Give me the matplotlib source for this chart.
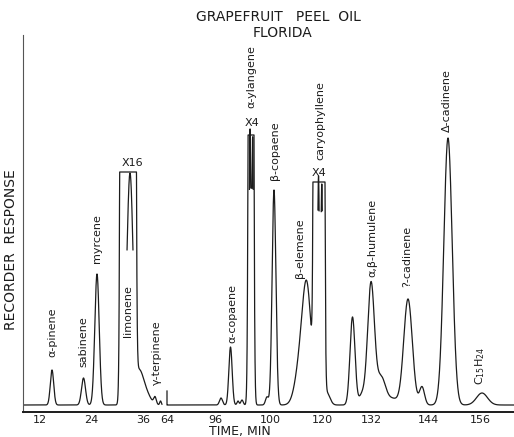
import numpy as np
import matplotlib
matplotlib.use('Agg')
import matplotlib.pyplot as plt

# Chart position along the recorder paper (x) and pen deflection above baseline (y),
# both.

# ---- first part of the run (monoterpenes) ----
seg1_span = (0, 139)
seg1_centers = [29, 60.5, 74, 105, 116, 125, 132, 137.5]
seg1_heights = [35, 27, 131, 345000, 35, 6, 7, 4]
seg1_sigmas = [1.7, 2.0, 2.2, 2.2, 5.0, 4.0, 1.3, 0.8]

# ---- second part of the run (sesquiterpenes) ----
seg2_span = (144, 491)
seg2_pen_mark = 14
seg2_centers = [198, 207.5, 215, 219, 228, 244, 251, 277, 284, 296, 304,
                329.5, 339, 348, 358, 370, 385, 399, 425, 459]
seg2_heights = [7, 58, 4, 5, 2550, 8, 215, 36, 110, 42600, 12,
                88, 10, 121, 28, 6, 106, 18, 267, 12]
seg2_sigmas = [1.5, 1.65, 1.0, 1.2, 1.42, 1.5, 1.9, 5.0, 4.5, 1.85, 3.0,
               2.5, 3.0, 3.4, 4.5, 5.0, 4.3, 2.5, 4.2, 5.5]

# off-scale peaks: pen limit inside each window
clip_lo = [90, 220, 288]
clip_hi = [125, 236, 305]
clip_top = [233, 270, 223]

# attenuated re-recordings (X16, X4, X4)
inset_labels = ['X16', 'X4', 'X4']
inset_centers = [[107], [227, 229.7], [295.5, 298.8]]
inset_heights = [[232], [273, 265], [228, 220]]
inset_sigmas = [[3.3], [0.9, 0.9], [1.0, 1.0]]
inset_floor = [155, 215, 193]
inset_label_x = [109, 229, 296]
inset_label_y = [242, 282, 232]

# peak names
peak_names = ['α-pinene', 'sabinene', 'myrcene', 'limonene', 'γ-terpinene',
              'α-copaene', 'α-ylangene', 'β-copaene', 'β-elemene', 'caryophyllene',
              'α,β-humulene', '?-cadinene', 'Δ-cadinene', r'C$_{15}$H$_{24}$']
name_x = [29, 60, 74, 105, 134, 209, 228, 252, 277, 297, 349, 384, 424, 457]
name_y = [48, 38, 142, 68, 20, 62, 297, 225, 127, 245, 128, 118, 273, 20]

tick_pos = [17, 68, 120, 144, 192, 247, 299, 348, 405, 457]
tick_labels = ['12', '24', '36', '64', '96', '100', '120', '132', '144', '156']


def gauss_sum(x, centers, heights, sigmas):
    y = np.zeros_like(x)
    for c, h, s in zip(centers, heights, sigmas):
        y += h * np.exp(-0.5 * ((x - c) / s) ** 2)
    return y


def clip_offscale(x, y):
    for lo, hi, top in zip(clip_lo, clip_hi, clip_top):
        m = (x >= lo) & (x <= hi)
        y[m] = np.minimum(y[m], top)
    return y


ink = '#1c1c1c'
fig = plt.figure(figsize=(5.14, 4.37), dpi=100)
ax = fig.add_axes([23 / 514, 25 / 437, 491 / 514, 377 / 437])

# first segment
x1 = np.arange(seg1_span[0], seg1_span[1], 0.05)
y1 = clip_offscale(x1, gauss_sum(x1, seg1_centers, seg1_heights, seg1_sigmas))
ax.plot(x1, y1, color=ink, lw=0.9)

# second segment, starting with the pen mark
x2 = np.arange(seg2_span[0], seg2_span[1], 0.05)
y2 = clip_offscale(x2, gauss_sum(x2, seg2_centers, seg2_heights, seg2_sigmas))
x2 = np.concatenate([[x2[0]], x2])
y2 = np.concatenate([[seg2_pen_mark], y2])
ax.plot(x2, y2, color=ink, lw=0.9)

# attenuated traces
for cs, hs, ss, fl, lab, lx, ly in zip(inset_centers, inset_heights, inset_sigmas,
                                       inset_floor, inset_labels,
                                       inset_label_x, inset_label_y):
    xi = np.arange(min(cs) - 6, max(cs) + 6, 0.02)
    yi = gauss_sum(xi, cs, hs, ss)
    yi[yi < fl] = np.nan
    ax.plot(xi, yi, color=ink, lw=0.9)
    ax.text(lx, ly, lab, ha='center', va='center', fontsize=8, color=ink)

for name, nx, ny in zip(peak_names, name_x, name_y):
    ax.text(nx, ny, name, rotation=90, ha='center', va='bottom',
            fontsize=8, color=ink)

ax.set_xlim(0, 491)
ax.set_ylim(-7, 370)
ax.set_xticks(tick_pos)
ax.set_xticklabels(tick_labels, fontsize=8, color=ink)
ax.tick_params(axis='x', length=0, pad=2)
ax.set_yticks([])
for side in ['top', 'right']:
    ax.spines[side].set_visible(False)
ax.spines['bottom'].set_linewidth(1.4)
ax.spines['bottom'].set_color(ink)
ax.spines['left'].set_linewidth(0.8)
ax.spines['left'].set_color('#555555')

fig.text(278 / 514, 1 - 17 / 437, 'GRAPEFRUIT   PEEL  OIL', ha='center', va='center',
         fontsize=10, color=ink)
fig.text(283 / 514, 1 - 33 / 437, 'FLORIDA', ha='center', va='center',
         fontsize=10, color=ink)
fig.text(11 / 514, 1 - 250 / 437, 'RECORDER  RESPONSE', rotation=90, ha='center',
         va='center', fontsize=10, color=ink)
fig.text(240 / 514, 1 - 432 / 437, 'TIME, MIN', ha='center', va='center',
         fontsize=9, color=ink)

fig.savefig('out.png', dpi=100)
